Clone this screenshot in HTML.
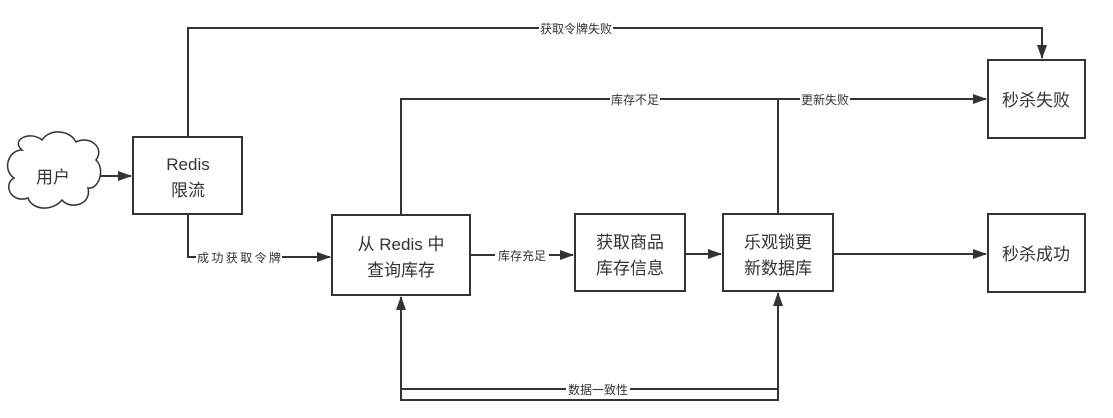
<!DOCTYPE html><html><head><style>body{margin:0;background:#fff}</style></head><body>
<svg width="1113" height="413" xmlns="http://www.w3.org/2000/svg" font-family="Liberation Sans, Noto Sans CJK SC, sans-serif">
<defs><marker id="a" markerWidth="14" markerHeight="10" refX="13" refY="5" orient="auto" markerUnits="userSpaceOnUse"><path d="M0,0L14,5L0,10z" fill="#333"/></marker></defs>
<g fill="none" stroke="#333" stroke-width="2">
<path d="M22,150 C10,140 30,130 42,140 C50,128 70,130 76,142 C90,135 105,148 96,160 C106,170 98,190 88,188 C92,205 70,210 62,200 C52,212 32,210 28,198 C12,204 2,185 14,178 C2,170 8,150 22,150Z" stroke-width="1.5"/>
<path d="M100,176H131" marker-end="url(#a)"/>
<rect x="133" y="137" width="109" height="77"/>
<rect x="332" y="215" width="138" height="80"/>
<rect x="575" y="214" width="110" height="77"/>
<rect x="723" y="214" width="110" height="77"/>
<rect x="988" y="60" width="97" height="78"/>
<rect x="988" y="214" width="97" height="78"/>
<path d="M188,137V28H1042V58" marker-end="url(#a)"/>
<path d="M401,215V99H986" marker-end="url(#a)"/>
<path d="M778,214V99"/>
<path d="M188,214V257H330" marker-end="url(#a)"/>
<path d="M470,255H573" marker-end="url(#a)"/>
<path d="M685,254H721" marker-end="url(#a)"/>
<path d="M833,254H986" marker-end="url(#a)"/>
<path d="M778,389H401V297" marker-end="url(#a)"/>
<path d="M401,389V400H778V293" marker-end="url(#a)"/>
</g>
<g font-size="12" fill="#333" text-anchor="middle">
<rect x="539" y="21" width="74" height="14" fill="#fff"/><text x="576" y="33">获取令牌失败</text>
<rect x="610" y="92" width="50" height="14" fill="#fff"/><text x="635" y="104">库存不足</text>
<rect x="800" y="92" width="50" height="14" fill="#fff"/><text x="825" y="104">更新失败</text>
<rect x="196" y="250" width="86" height="14" fill="#fff"/><text x="239" y="262" textLength="84" lengthAdjust="spacing">成功获取令牌</text>
<rect x="495" y="248" width="54" height="14" fill="#fff"/><text x="522" y="260">库存充足</text>
<rect x="566" y="382" width="64" height="14" fill="#fff"/><text x="598" y="394">数据一致性</text>
</g>
<g font-size="17" fill="#333" text-anchor="middle">
<text x="53" y="183">用户</text>
<text x="188" y="170">Redis</text><text x="188" y="196">限流</text>
<text x="401" y="250">从 Redis 中</text><text x="401" y="276">查询库存</text>
<text x="630" y="248">获取商品</text><text x="630" y="274">库存信息</text>
<text x="778" y="248">乐观锁更</text><text x="778" y="274">新数据库</text>
<text x="1036" y="106">秒杀失败</text>
<text x="1036" y="260">秒杀成功</text>
</g>
</svg></body></html>
